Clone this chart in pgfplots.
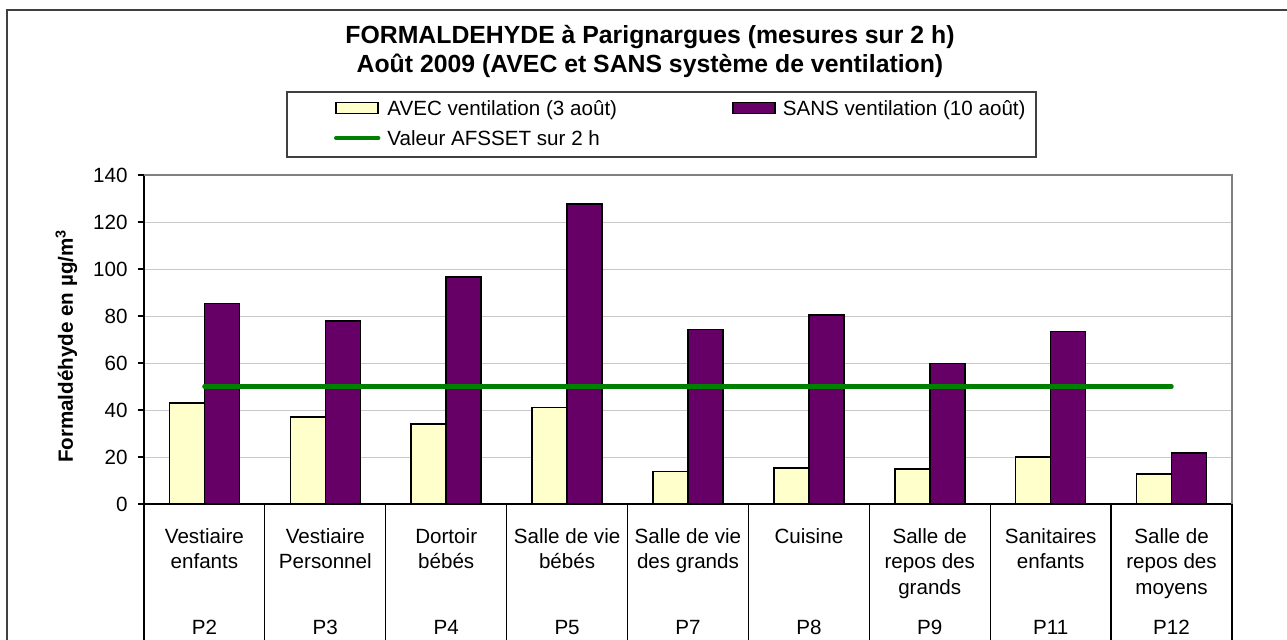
\documentclass[border=0pt]{standalone}
\usepackage{fontspec}
\setmainfont{Liberation Sans}
\usepackage{pgfplots}
\usepackage{pgfplotstable}
\pgfplotsset{compat=1.18}
\definecolor{avec}{HTML}{FFFFCC}
\definecolor{sans}{HTML}{660066}
\definecolor{afsset}{HTML}{008000}
\definecolor{gridc}{HTML}{C8C8C8}
\definecolor{framec}{HTML}{404040}
\pgfplotsset{
  barleg/.style={legend image code/.code={\draw[##1] (0pt,-2.75pt) rectangle (21pt,2.75pt);}},
  lineleg/.style={legend image code/.code={\draw[##1] (0pt,0pt) -- (21pt,0pt);}},
}
\newcommand{\bodyfont}{\fontsize{10.3}{12.4}\selectfont}
\newcommand{\titlefont}{\fontsize{12.4}{14.8}\selectfont\bfseries}
\newcommand{\cl}[5]{%
 \node[anchor=base,inner sep=0pt,font=\bodyfont,yshift=-19.7pt] at (axis cs:#1,0) {#2};
 \node[anchor=base,inner sep=0pt,font=\bodyfont,yshift=-32.45pt] at (axis cs:#1,0) {#3};
 \node[anchor=base,inner sep=0pt,font=\bodyfont,yshift=-45.2pt] at (axis cs:#1,0) {#4};
 \node[anchor=base,inner sep=0pt,font=\bodyfont,yshift=-65.2pt] at (axis cs:#1,0) {#5};
}
\pgfplotstableread{
x avec sans
0.5 43 85.3
1.5 37 77.8
2.5 34 96.5
3.5 41 127.6
4.5 13.8 74.2
5.5 15.4 80.5
6.5 15 59.8
7.5 20 73.4
8.5 12.8 21.6
}\data
\begin{document}
\begin{tikzpicture}
\useasboundingbox (0,0) rectangle (643.5pt,319.5pt);
\clip (0,0) rectangle (643.5pt,319.5pt);
\draw[framec, line width=1pt] (3.5pt,-20pt) rectangle (700pt,314.5pt);
\node[font=\titlefont, anchor=base] at (325pt,298pt) {FORMALDEHYDE à Parignargues (mesures sur 2 h)};
\node[font=\titlefont, anchor=base] at (325pt,283.5pt) {Août 2009 (AVEC et SANS système de ventilation)};
\draw[framec, line width=0.6pt] (143.5pt,241pt) rectangle (518pt,273.5pt);
\begin{axis}[
  at={(72pt,67.5pt)}, anchor=south west, scale only axis,
  width=544pt, height=164.5pt,
  xmin=0, xmax=9, ymin=0, ymax=140,
  axis x line*=bottom, axis y line*=left,
  axis line style={line width=0.6pt, black},
  xtick=\empty, ytick={0,20,...,140},
  tick align=outside, major tick length=3pt,
  tick style={line width=0.6pt, black},
  ymajorgrids, grid style={gridc, line width=0.5pt},
  /pgf/number format/assume math mode=true,
  yticklabel style={font=\bodyfont, inner sep=0pt, anchor=east, xshift=-5pt},
  ylabel={Formaldéhyde en µg/m\textsuperscript{3}},
  ylabel style={font=\bodyfont\bfseries, at={(axis description cs:-0.0653,0.48)}, anchor=base},
  clip=false,
  legend columns=2,
  legend cell align=left,
  legend style={draw=none, fill=none, at={(axis description cs:0.1746,1.2310)}, anchor=north west,
    inner sep=0pt, outer sep=0pt, row sep=6pt,
    nodes={inner sep=0pt, text height=8pt, text depth=1pt, font=\bodyfont},
    /tikz/every odd column/.append style={column sep=3.5pt}},
]
\addplot[ybar, bar width=17.5pt, bar shift=-8.75pt, fill=avec, draw=black, line width=0.75pt, barleg]
  table[x=x, y=avec] {\data};
\addlegendentry{\makebox[172.5pt][l]{AVEC ventilation (3 août)}}
\addplot[ybar, bar width=17.5pt, bar shift=8.75pt, fill=sans, draw=black, line width=0.75pt, barleg]
  table[x=x, y=sans] {\data};
\addlegendentry{SANS ventilation (10 août)}
\addplot[afsset, line width=2.2pt, line cap=round, mark=none, lineleg]
  coordinates {(0.5,50) (8.5,50)};
\addlegendentry{Valeur AFSSET sur 2 h}
\draw[gray, line width=0.6pt] (rel axis cs:0,1) -- (rel axis cs:1,1) -- (rel axis cs:1,0);
\pgfplotsinvokeforeach{0,...,9}{\draw[black, line width=0.6pt] (axis cs:#1,0) -- ++(0pt,-80pt);}
\cl{0.5}{Vestiaire}{enfants}{}{P2}
\cl{1.5}{Vestiaire}{Personnel}{}{P3}
\cl{2.5}{Dortoir}{bébés}{}{P4}
\cl{3.5}{Salle de vie}{bébés}{}{P5}
\cl{4.5}{Salle de vie}{des grands}{}{P7}
\cl{5.5}{Cuisine}{}{}{P8}
\cl{6.5}{Salle de}{repos des}{grands}{P9}
\cl{7.5}{Sanitaires}{enfants}{}{P11}
\cl{8.5}{Salle de}{repos des}{moyens}{P12}
\end{axis}
\end{tikzpicture}
\end{document}
